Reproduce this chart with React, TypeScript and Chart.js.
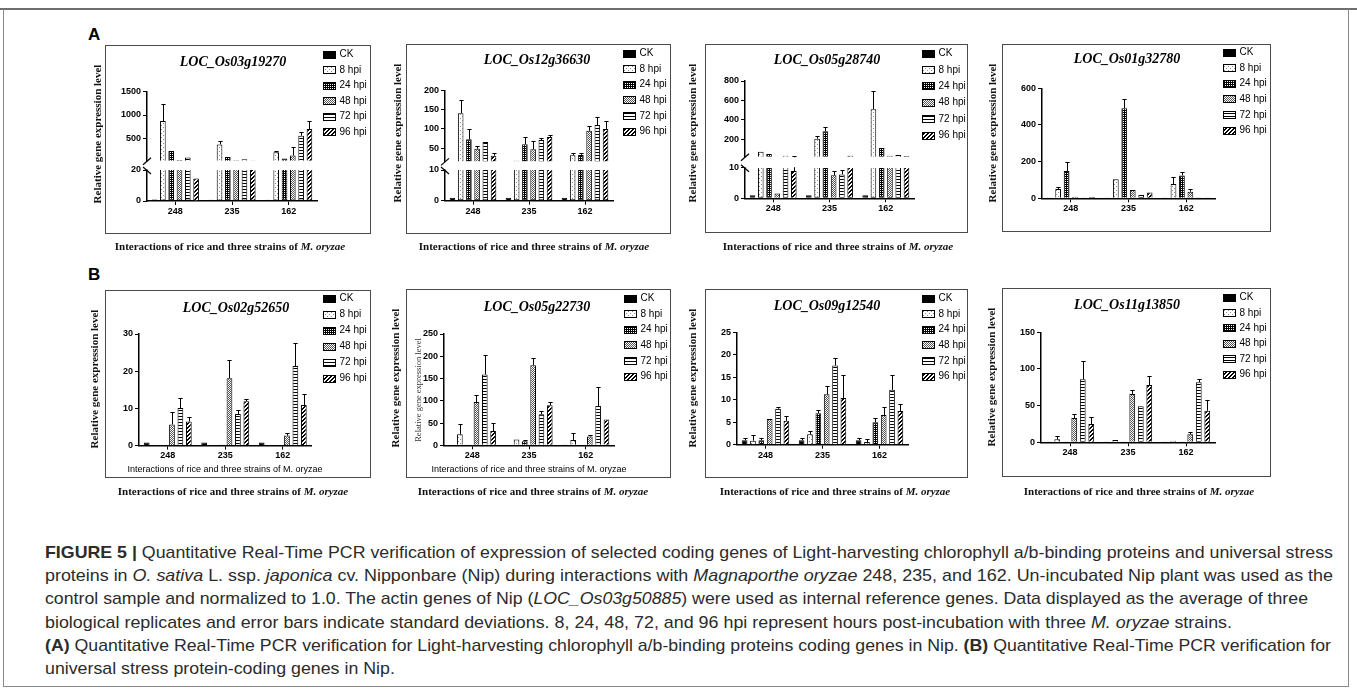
import React, { useEffect, useLayoutEffect, useRef } from 'react';
import { Chart, registerables } from 'chart.js';

Chart.register(...registerables);

const SANS = "'Liberation Sans', Arial, Helvetica, sans-serif";
const SERIF = "'Liberation Serif', 'Times New Roman', Times, serif";

// ---------------- DATA ----------------
const STRAINS = ['248', '235', '162'];
const SERIES = ['CK', '8 hpi', '24 hpi', '48 hpi', '72 hpi', '96 hpi'];

// each row: one series (CK, 8, 24, 48, 72, 96 hpi); columns: strains 248, 235, 162
// "Err" = top of the error bar (mean + SD)
const os03g19270Mean = [[0.9, 0.8, 0.8], [870, 370, 200], [230, 100, 65], [35, 28, 130], [90, 50, 555], [14.5, 22, 700]];
const os03g19270Err = [[1.1, 1.0, 1.0], [1240, 450, 235], [240, 120, 75], [38, 30, 320], [100, 55, 630], [14.5, 22, 880]];
const os03g19270LowTicks = [0, 10, 20];
const os03g19270HighTicks = [500, 1000, 1500];

const os12g36630Mean = [[1, 1, 1], [141, 17, 31], [73, 60, 32], [48, 47, 95], [66, 71, 110], [30, 79, 100]];
const os12g36630Err = [[1.3, 1.3, 1.4], [175, 18, 37], [101, 78, 36], [54, 68, 107], [69, 75, 131], [37, 85, 120]];
const os12g36630LowTicks = [0, 5, 10];
const os12g36630HighTicks = [50, 100, 150, 200];

const os05g28740Mean = [[1, 1, 1], [72, 205, 510], [50, 283, 110], [1.6, 7.5, 30], [32, 7.8, 38], [8.9, 32, 27]];
const os05g28740Err = [[1.2, 1.2, 1.2], [83, 235, 700], [62, 325, 120], [1.8, 8.8, 33], [36, 9.2, 42], [28, 35, 29]];
const os05g28740LowTicks = [0, 5, 10];
const os05g28740HighTicks = [200, 400, 600, 800];

const os01g32780Mean = [[1, 1, 1], [51, 104, 78], [149, 491, 125], [9, 45, 36], [4, 18, 4], [7, 31, 4]];
const os01g32780Err = [[1, 1, 1], [64, 107, 115], [196, 544, 142], [11, 47, 51], [5, 19, 5], [8, 33, 5]];
const os01g32780Ticks = [0, 200, 400, 600];

const os02g52650Mean = [[0.8, 0.8, 0.8], [0.1, 0.1, 0.1], [0.1, 0.2, 0.1], [5.7, 18.1, 2.7], [10.1, 8.5, 21.4], [6.5, 11.9, 10.9]];
const os02g52650Err = [[1.1, 1.2, 1.2], [0.1, 0.1, 0.1], [0.1, 0.2, 0.1], [8.9, 22.9, 3.5], [12.9, 9.5, 27.6], [7.8, 12.6, 13.8]];
const os02g52650Ticks = [0, 10, 20, 30];

const os05g22730Mean = [[1, 1, 0.5], [25, 13, 12], [2, 9, 1], [97, 180, 20], [159, 70, 88], [32, 90, 58]];
const os05g22730Err = [[1, 1, 0.5], [47, 16, 28], [3, 13, 1], [112, 197, 24], [202, 78, 131], [51, 98, 60]];
const os05g22730Ticks = [0, 50, 100, 150, 200, 250];

const os09g12540Mean = [[1.0, 1.0, 1.0], [0.9, 2.3, 0.6], [1.0, 7.0, 5.0], [5.7, 11.2, 6.6], [8.0, 17.6, 12.2], [5.3, 10.4, 7.5]];
const os09g12540Err = [[1.4, 1.4, 1.4], [2.2, 3.1, 1.3], [1.5, 7.8, 6.0], [5.9, 13.0, 8.3], [8.4, 19.3, 15.4], [6.3, 15.4, 9.0]];
const os09g12540Ticks = [0, 5, 10, 15, 20, 25];

const os11g13850Mean = [[1, 1, 1], [4, 3, 2], [1, 1, 1], [33, 66, 11], [86, 49, 82], [25, 78, 43]];
const os11g13850Err = [[1, 1, 1], [9, 5, 3], [1, 1, 1], [39, 71, 14], [111, 51, 87], [34, 90, 58]];
const os11g13850Ticks = [0, 50, 100, 150];

// ---------------- LAYOUT ----------------
type Spec = {
  gene: string;
  mean: number[][];
  err: number[][];
  box: number[]; // left, top, right, bottom
  plot: number[]; // left, top, right, bottom of plot area
  ticks?: number[];
  low?: { max: number; ticks: number[]; topPx: number };
  high?: { min: number; max: number; ticks: number[]; bottomPx: number };
  title: number[];
  legend: number[]; // x, first row y, row step
  yTitle: number[];
  outer?: number[];
  innerX?: number[];
  innerY?: number[];
};

const PANELS: Spec[] = [
  {
    gene: 'LOC_Os03g19270', mean: os03g19270Mean, err: os03g19270Err,
    box: [105, 45, 371, 234], plot: [147, 91.7, 317, 201],
    low: { max: 20, ticks: os03g19270LowTicks, topPx: 170 },
    high: { min: 20, max: 1500, ticks: os03g19270HighTicks, bottomPx: 160.7 },
    title: [233, 62], legend: [323, 54, 15.5], yTitle: [97, 134], outer: [230, 246],
  },
  {
    gene: 'LOC_Os12g36630', mean: os12g36630Mean, err: os12g36630Err,
    box: [406, 44, 671, 234], plot: [445, 90.7, 613, 200.7],
    low: { max: 10, ticks: os12g36630LowTicks, topPx: 170 },
    high: { min: 15, max: 200, ticks: os12g36630HighTicks, bottomPx: 161.4 },
    title: [537, 60], legend: [623, 53, 15.6], yTitle: [397, 133], outer: [534, 246],
  },
  {
    gene: 'LOC_Os05g28740', mean: os05g28740Mean, err: os05g28740Err,
    box: [705, 44, 968, 233], plot: [745, 81, 914, 198.3],
    low: { max: 10, ticks: os05g28740LowTicks, topPx: 167.7 },
    high: { min: 20, max: 800, ticks: os05g28740HighTicks, bottomPx: 156.8 },
    title: [827, 60], legend: [922, 53, 16.4], yTitle: [692, 133], outer: [838, 246],
  },
  {
    gene: 'LOC_Os01g32780', mean: os01g32780Mean, err: os01g32780Err,
    box: [1002, 44, 1271, 232], plot: [1042, 88.3, 1215, 198.3], ticks: os01g32780Ticks,
    title: [1127, 59], legend: [1223, 52, 15.6], yTitle: [992, 133],
  },
  {
    gene: 'LOC_Os02g52650', mean: os02g52650Mean, err: os02g52650Err,
    box: [105, 290, 371, 478], plot: [139, 334, 311.5, 445.6], ticks: os02g52650Ticks,
    title: [236, 308], legend: [323, 298, 16], yTitle: [94, 379], outer: [233, 491], innerX: [225, 469],
  },
  {
    gene: 'LOC_Os05g22730', mean: os05g22730Mean, err: os05g22730Err,
    box: [406, 289, 671, 478], plot: [444, 334, 614, 445.3], ticks: os05g22730Ticks,
    title: [537, 307], legend: [624, 298, 15.6], yTitle: [395, 378], outer: [533, 491], innerX: [529, 469], innerY: [418, 390],
  },
  {
    gene: 'LOC_Os09g12540', mean: os09g12540Mean, err: os09g12540Err,
    box: [705, 289, 968, 478], plot: [737, 332.3, 908, 444.7], ticks: os09g12540Ticks,
    title: [827, 306], legend: [922, 298, 15.6], yTitle: [692, 378], outer: [835, 491],
  },
  {
    gene: 'LOC_Os11g13850', mean: os11g13850Mean, err: os11g13850Err,
    box: [1002, 288, 1271, 477], plot: [1041, 332.3, 1215, 442.3], ticks: os11g13850Ticks,
    title: [1127, 305], legend: [1223, 297, 15.4], yTitle: [991, 377], outer: [1139, 491],
  },
];

// ---------------- PATTERNS ----------------
function tilePattern(ctx: CanvasRenderingContext2D, w: number, h: number, bg: string, fg: string, px: number[][]) {
  const c = document.createElement('canvas');
  c.width = w;
  c.height = h;
  const g = c.getContext('2d')!;
  g.fillStyle = bg;
  g.fillRect(0, 0, w, h);
  g.fillStyle = fg;
  px.forEach(([x, y]) => g.fillRect(x, y, 1, 1));
  return ctx.createPattern(c, 'repeat')!;
}

function makePatterns(ctx: CanvasRenderingContext2D): (string | CanvasPattern)[] {
  return [
    '#000',
    tilePattern(ctx, 4, 4, '#fff', '#8a8a8a', [[0, 0], [2, 2]]),
    tilePattern(ctx, 4, 4, '#000', '#fff', [[1, 1], [3, 3], [1, 3], [3, 1]]),
    tilePattern(ctx, 2, 2, '#fff', '#555', [[0, 0], [1, 1]]),
    tilePattern(ctx, 4, 3, '#fff', '#000', [[0, 0], [1, 0], [2, 0], [3, 0]]),
    tilePattern(ctx, 4, 4, '#fff', '#000', [[3, 0], [2, 1], [1, 2], [0, 3], [0, 0], [3, 1], [2, 2], [1, 3]]),
  ];
}

// ---------------- CHART ----------------
const YW = 30;
const XH = 16;

function yScale(ticks: number[], min: number, max: number, extra: any) {
  return {
    type: 'linear',
    position: 'left',
    stacked: false,
    min,
    max,
    afterBuildTicks: (sc: any) => {
      sc.ticks = ticks.map((v) => ({ value: v }));
    },
    afterFit: (sc: any) => {
      sc.width = YW;
    },
    grid: { display: true, drawOnChartArea: false, drawTicks: true, tickLength: 4, color: '#000', lineWidth: 1 },
    border: { display: true, color: '#000', width: 1.5 },
    ticks: { color: '#000', font: { family: SANS, size: 9, weight: 'bold' }, padding: 2, callback: (v: any) => String(v) },
    ...extra,
  };
}

function createChart(canvas: HTMLCanvasElement, p: Spec) {
  const [bl, bt, br, bb] = p.box;
  const [pl, pt, pr, pb] = p.plot;
  const ctx2d = canvas.getContext('2d')!;
  const pats = makePatterns(ctx2d);
  const broken = !!(p.low && p.high);
  const lowMax = p.low ? p.low.max : Infinity;

  const datasets: any[] = SERIES.map((name, s) => ({
    type: 'bar',
    label: name,
    data: p.mean[s].map((v) => (broken ? Math.min(v, lowMax) : v)),
    yAxisID: broken ? 'yLow' : 'y',
    stack: 'S' + s,
    backgroundColor: pats[s],
    borderColor: '#000',
    borderWidth: 1,
    borderSkipped: (c: any) => (broken && p.mean[s][c.dataIndex] > lowMax ? 'top' : 'start'),
  }));
  if (broken) {
    const hmin = p.high!.min;
    SERIES.forEach((name, s) => {
      datasets.push({
        type: 'bar',
        label: name,
        data: p.mean[s].map((v) => (v > hmin ? [hmin, v] : null)),
        yAxisID: 'yHigh',
        stack: 'S' + s,
        backgroundColor: pats[s],
        borderColor: '#000',
        borderWidth: 1,
        borderSkipped: 'start',
      });
    });
  }

  const scales: any = {
    x: {
      type: 'category',
      offset: true,
      grid: { display: true, offset: false, drawOnChartArea: false, drawTicks: true, tickLength: 4, color: '#000', lineWidth: 1 },
      border: { display: true, color: '#000', width: 1.5 },
      ticks: { color: '#000', font: { family: SANS, size: 9, weight: 'bold' }, padding: 1, autoSkip: false, maxRotation: 0 },
      afterFit: (sc: any) => {
        sc.height = XH;
      },
    },
  };
  if (broken) {
    const lowPx = pb - p.low!.topPx;
    const highPx = p.high!.bottomPx - pt;
    const gapPx = p.low!.topPx - p.high!.bottomPx;
    const hMin = p.high!.min - (gapPx * (p.high!.max - p.high!.min)) / highPx;
    scales.yLow = yScale(p.low!.ticks, 0, p.low!.max, { stack: 'yy', stackWeight: lowPx, weight: 0 });
    scales.yHigh = yScale(p.high!.ticks, hMin, p.high!.max, { stack: 'yy', stackWeight: highPx + gapPx, weight: 1 });
  } else {
    const t = p.ticks!;
    scales.y = yScale(t, 0, t[t.length - 1], {});
  }

  const px = (chart: any, v: number) =>
    broken
      ? v <= lowMax
        ? chart.scales.yLow.getPixelForValue(v)
        : chart.scales.yHigh.getPixelForValue(v)
      : chart.scales.y.getPixelForValue(v);

  const overlay = {
    id: 'overlay' + p.gene,
    afterDatasetsDraw(chart: any) {
      const c = chart.ctx as CanvasRenderingContext2D;
      const area = chart.chartArea;
      c.save();
      c.strokeStyle = '#000';
      c.lineWidth = 1;
      for (let s = 0; s < SERIES.length; s++) {
        const meta = chart.getDatasetMeta(s);
        meta.data.forEach((el: any, i: number) => {
          const top = px(chart, p.mean[s][i]);
          const e = px(chart, p.err[s][i]);
          if (top - e < 1.5) return;
          const x = Math.round(el.x) + 0.5;
          const cw = el.width * 0.75;
          const ye = Math.round(e) + 0.5;
          c.beginPath();
          c.moveTo(x, top);
          c.lineTo(x, ye);
          c.moveTo(x - cw / 2, ye);
          c.lineTo(x + cw / 2, ye);
          c.stroke();
        });
      }
      if (broken) {
        const yHi = chart.scales.yHigh.getPixelForValue(p.high!.min);
        const yLo = chart.scales.yLow.getPixelForValue(lowMax);
        c.fillStyle = '#fff';
        c.fillRect(area.left - 2, yHi + 0.5, area.right - area.left + 4, yLo - yHi - 1);
        c.lineWidth = 1.2;
        c.beginPath();
        c.moveTo(area.left - 4, yHi + 4);
        c.lineTo(area.left + 4, yHi - 3);
        c.moveTo(area.left - 4, yLo - 3);
        c.lineTo(area.left + 4, yLo + 4);
        c.stroke();
      }
      c.restore();
    },
    afterDraw(chart: any) {
      const c = chart.ctx as CanvasRenderingContext2D;
      const [lx, ly, dy] = p.legend;
      c.save();
      for (let s = 0; s < SERIES.length; s++) {
        const ds = chart.data.datasets[s];
        const x = Math.round(lx - bl) + 0.5;
        const y = ly - bt + s * dy;
        const yr = Math.round(y - 3.5) + 0.5;
        c.fillStyle = ds.backgroundColor;
        c.fillRect(x, yr, 12, 7);
        c.strokeStyle = '#000';
        c.lineWidth = 1;
        c.strokeRect(x, yr, 12, 7);
        c.fillStyle = '#000';
        c.font = `10px ${SANS}`;
        c.textBaseline = 'middle';
        c.textAlign = 'left';
        c.fillText(ds.label, x + 16, y + 0.5);
      }
      c.restore();
    },
  };

  return new Chart(canvas, {
    type: 'bar',
    data: { labels: STRAINS, datasets },
    options: {
      animation: false,
      responsive: false,
      maintainAspectRatio: false,
      devicePixelRatio: 1,
      categoryPercentage: 0.88,
      barPercentage: 0.68,
      layout: {
        padding: {
          left: pl - bl - YW,
          right: br - pr,
          top: pt - bt,
          bottom: bb - pb - XH,
        },
      },
      plugins: { legend: { display: false }, tooltip: { enabled: false }, title: { display: false } },
      scales,
    } as any,
    plugins: [overlay],
  } as any);
}

// ---------------- COMPONENTS ----------------
function Txt({ x, y, rot, style, children }: { x: number; y: number; rot?: number; style?: any; children: any }) {
  return (
    <div
      style={{
        position: 'absolute',
        left: x,
        top: y,
        transform: `translate(-50%, -50%)${rot ? ` rotate(${rot}deg)` : ''}`,
        whiteSpace: 'nowrap',
        lineHeight: 1,
        ...style,
      }}
    >
      {children}
    </div>
  );
}

const outerTitleStyle = { fontFamily: SERIF, fontWeight: 'bold', fontSize: 11, color: '#111' };

function Panel({ p }: { p: Spec }) {
  const ref = useRef<HTMLCanvasElement>(null);
  useEffect(() => {
    const chart = createChart(ref.current!, p);
    return () => chart.destroy();
  }, [p]);
  const [l, t, r, b] = p.box;
  return (
    <>
      <canvas
        ref={ref}
        width={r - l}
        height={b - t}
        style={{ position: 'absolute', left: l, top: t, width: r - l, height: b - t }}
      />
      <div
        style={{
          position: 'absolute',
          left: l,
          top: t,
          width: r - l,
          height: b - t,
          border: '1.5px solid #4a4a4a',
          boxSizing: 'border-box',
          pointerEvents: 'none',
        }}
      />
      <Txt x={p.title[0]} y={p.title[1]} style={{ fontFamily: SERIF, fontWeight: 'bold', fontStyle: 'italic', fontSize: 14, color: '#000' }}>
        {p.gene}
      </Txt>
      <Txt x={p.yTitle[0]} y={p.yTitle[1]} rot={-90} style={{ fontFamily: SERIF, fontWeight: 'bold', fontSize: 11, color: '#111' }}>
        Relative gene expression level
      </Txt>
      {p.outer && (
        <Txt x={p.outer[0]} y={p.outer[1]} style={outerTitleStyle}>
          Interactions of rice and three strains of <i>M. oryzae</i>
        </Txt>
      )}
      {p.innerX && (
        <Txt x={p.innerX[0]} y={p.innerX[1]} style={{ fontFamily: SANS, fontSize: 9, color: '#000' }}>
          Interactions of rice and three strains of M. oryzae
        </Txt>
      )}
      {p.innerY && (
        <Txt x={p.innerY[0]} y={p.innerY[1]} rot={-90} style={{ fontFamily: SERIF, fontSize: 8.5, color: '#333' }}>
          Relative gene expression level
        </Txt>
      )}
    </>
  );
}

const CAPTION_LEFT = 45;
const CAPTION_TOP = 552;
const CAPTION_STEP = 23.2;
const CAPTION_RIGHT = [1333, 1333, 1308, 1232, 1331, 0];

const CAPTION_LINES: React.ReactNode[] = [
  <>
    <b>FIGURE 5 | </b>Quantitative Real-Time PCR verification of expression of selected coding genes of Light-harvesting chlorophyll a/b-binding proteins and universal stress
  </>,
  <>
    proteins in <i>O. sativa</i> L. ssp. <i>japonica</i> cv. Nipponbare (Nip) during interactions with <i>Magnaporthe oryzae</i> 248, 235, and 162. Un-incubated Nip plant was used as the
  </>,
  <>
    control sample and normalized to 1.0. The actin genes of Nip (<i>LOC_Os03g50885</i>) were used as internal reference genes. Data displayed as the average of three
  </>,
  <>
    biological replicates and error bars indicate standard deviations. 8, 24, 48, 72, and 96 hpi represent hours post-incubation with three <i>M. oryzae</i> strains.
  </>,
  <>
    <b>(A)</b> Quantitative Real-Time PCR verification for Light-harvesting chlorophyll a/b-binding proteins coding genes in Nip. <b>(B)</b> Quantitative Real-Time PCR verification for
  </>,
  <>universal stress protein-coding genes in Nip.</>,
];

function Caption() {
  const refs = useRef<(HTMLDivElement | null)[]>([]);
  useLayoutEffect(() => {
    let k0 = 1;
    refs.current.forEach((el, i) => {
      if (!el) return;
      const w = el.getBoundingClientRect().width;
      const target = CAPTION_RIGHT[i] - CAPTION_LEFT;
      const k = CAPTION_RIGHT[i] > 0 && w > 0 ? target / w : k0;
      if (i === 0) k0 = k;
      el.style.transform = `translateY(-50%) scaleX(${k})`;
    });
  }, []);
  return (
    <>
      {CAPTION_LINES.map((line, i) => (
        <div
          key={i}
          ref={(el) => {
            refs.current[i] = el;
          }}
          style={{
            position: 'absolute',
            left: CAPTION_LEFT,
            top: CAPTION_TOP + i * CAPTION_STEP,
            transform: 'translateY(-50%)',
            transformOrigin: '0 50%',
            whiteSpace: 'nowrap',
            fontFamily: SANS,
            fontSize: 17,
            lineHeight: 1,
            color: '#2b2b2b',
          }}
        >
          {line}
        </div>
      ))}
    </>
  );
}

export default function App() {
  return (
    <div
      style={{
        position: 'fixed',
        left: 0,
        top: 0,
        width: 1357,
        height: 689,
        background: '#fff',
        overflow: 'hidden',
      }}
    >
      <div style={{ position: 'absolute', left: 0, top: 8, width: 1357, height: 2, background: '#6e6e6e' }} />
      <div style={{ position: 'absolute', left: 3, top: 9, width: 1, height: 677, background: '#8a8a8a' }} />
      <div style={{ position: 'absolute', left: 1348, top: 9, width: 1, height: 677, background: '#8a8a8a' }} />
      <div style={{ position: 'absolute', left: 3, top: 686, width: 1346, height: 1, background: '#8a8a8a' }} />
      <div style={{ position: 'absolute', left: 88, top: 26, fontFamily: SANS, fontWeight: 'bold', fontSize: 17, lineHeight: 1 }}>A</div>
      <div style={{ position: 'absolute', left: 88, top: 266, fontFamily: SANS, fontWeight: 'bold', fontSize: 17, lineHeight: 1 }}>B</div>
      {PANELS.map((p) => (
        <Panel key={p.gene} p={p} />
      ))}
      <Caption />
    </div>
  );
}
